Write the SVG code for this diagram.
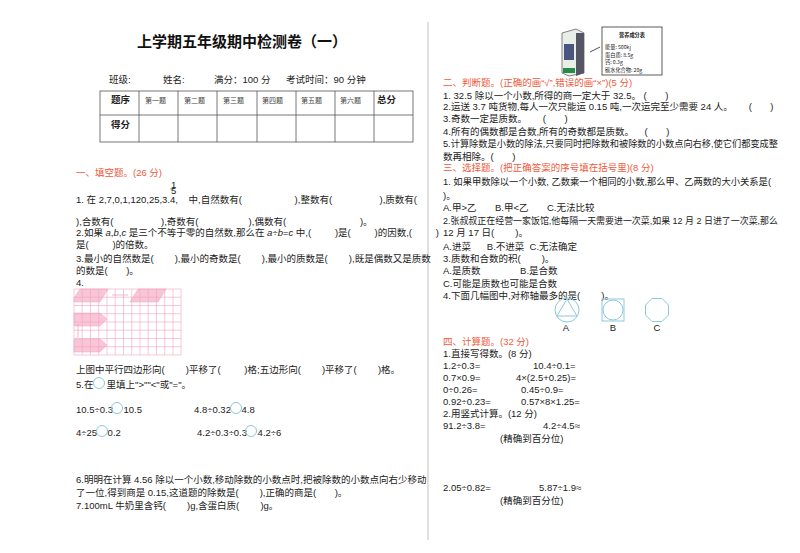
<svg xmlns="http://www.w3.org/2000/svg" width="800" height="553" viewBox="0 0 800 553">
<defs>
<style>
text{font-family:"Liberation Sans","Noto Sans CJK SC",sans-serif;font-size:9.5px;fill:#222;white-space:pre}
.t{font-size:15px;font-weight:bold;fill:#111}
.h{fill:#f05a3c}
.s{font-size:7px;fill:#444}
.b{font-weight:bold}
.n{font-size:5.2px;font-family:"Noto Sans CJK SC",serif}
.ln{stroke:#555;stroke-width:0.8;fill:none}
.c{fill:none;stroke:#8cc9dd;stroke-width:1}
.g{stroke:#f2a5bd;stroke-width:0.6;fill:none}
.p{fill:#f8c6d6;stroke:#f2a5bd;stroke-width:0.5}
</style>
</defs>
<rect width="800" height="553" fill="#fff"/>
<line x1="428" y1="22" x2="428" y2="540" stroke="#999" stroke-width="0.6"/>
<g id="title"><text x="242" y="47" class="t" text-anchor="middle">上学期五年级期中检测卷（一）</text></g>
<g id="info">
<text x="109" y="83" font-size="10.5">班级:</text>
<text x="163" y="83" font-size="10.5">姓名:</text>
<text x="214" y="83" font-size="10.5">满分：100 分</text>
<text x="286" y="83" font-size="10.5">考试时间：90 分钟</text>
</g>
<g id="table">
<rect x="100" y="91" width="313" height="51" class="ln"/>
<line x1="100" y1="115" x2="413" y2="115" class="ln"/>
<path d="M139 91V142M178 91V142M217 91V142M257 91V142M296 91V142M335 91V142M374 91V142" class="ln"/>
<text x="111" y="103" class="b" font-size="8">题序</text>
<text x="145" y="103" class="s">第一题</text>
<text x="184" y="103" class="s">第二题</text>
<text x="223" y="103" class="s">第三题</text>
<text x="262" y="103" class="s">第四题</text>
<text x="301" y="103" class="s">第五题</text>
<text x="340" y="103" class="s">第六题</text>
<text x="377" y="103" class="b" font-size="9">总分</text>
<text x="111" y="128" class="b" font-size="8">得分</text>
</g>
<g id="sec1">
<text x="76" y="176" class="h">一、填空题。(26 分)</text>
<text x="76" y="203">1. 在 2,7,0,1,120,25,3.4,    中,自然数有(                    ),整数有(                  ),质数有(</text>
<text x="171" y="188" font-size="4">1</text>
<line x1="170" y1="189" x2="174" y2="189" stroke="#222" stroke-width="0.4"/>
<text x="171" y="194" font-size="4">5</text>
<text x="76" y="225">),合数有(                  ),奇数有(                   ),偶数有(                            )。</text>
<text x="76" y="236">2.如果 <tspan font-style="italic">a</tspan>,<tspan font-style="italic">b</tspan>,<tspan font-style="italic">c</tspan> 是三个不等于零的自然数,那么在 <tspan font-style="italic">a</tspan>÷<tspan font-style="italic">b</tspan>=<tspan font-style="italic">c</tspan> 中,(         )是(         )的因数,(         )</text>
<text x="76" y="248">是(         )的倍数。</text>
<text x="76" y="262">3.最小的自然数是(        ),最小的奇数是(        ),最小的质数是(        ),既是偶数又是质数</text>
<text x="76" y="274">的数是(       )。</text>
<text x="76" y="286">4.</text>
</g>
<g id="grid">
<path class="p" d="M80 289H108L100 302H74V298Z"/>
<path class="p" d="M138 289H166L158 302H130Z"/>
<path class="p" d="M74 313H100L107 319L100 326H74Z"/>
<path class="p" d="M74 339H100L107 345L100 352H74Z"/>
<path class="g" d="M74 289V355M82.2 289V355M90.5 289V355M98.7 289V355M107 289V355M115.2 289V355M123.5 289V355M131.7 289V355M140 289V355M148.2 289V355M156.5 289V355M164.7 289V355M173 289V355M181 289V355"/>
<path class="g" d="M74 289H181M74 297.2H181M74 305.5H181M74 313.7H181M74 322H181M74 330.2H181M74 338.5H181M74 346.7H181M74 355H181"/>
<line x1="112" y1="295" x2="128" y2="295" stroke="#e98aa8" stroke-width="0.6"/>
<line x1="78" y1="324" x2="78" y2="338" stroke="#e98aa8" stroke-width="0.6"/>
</g>
<g id="sec1b">
<text x="76" y="373">上图中平行四边形向(        )平移了(         )格;五边形向(        )平移了(        )格。</text>
<text x="76" y="388">5.在     里填上"&gt;""&lt;"或"="。</text>
<circle cx="99" cy="383" r="5.5" class="c"/>
<text x="76" y="413">10.5÷0.3    10.5</text>
<circle cx="117" cy="408" r="5.5" class="c"/>
<text x="194" y="413">4.8÷0.32    4.8</text>
<circle cx="236" cy="408" r="5.5" class="c"/>
<text x="76" y="436">4÷25    0.2</text>
<circle cx="102" cy="431" r="5.5" class="c"/>
<text x="197" y="436">4.2÷0.3÷0.3    4.2÷6</text>
<circle cx="251" cy="431" r="5.5" class="c"/>
<text x="76" y="483">6.明明在计算 4.56 除以一个小数,移动除数的小数点时,把被除数的小数点向右少移动</text>
<text x="76" y="496">了一位,得到商是 0.15,这道题的除数是(        ),正确的商是(       )。</text>
<text x="76" y="509">7.100mL 牛奶里含钙(        )g,含蛋白质(        )g。</text>
</g>
<g id="milk">
<path d="M562 33L576 29L584 33V73L569 76L562 73Z" fill="#e8efe8" stroke="#333" stroke-width="0.6"/>
<path d="M576 33L584 33V73L576 76Z" fill="#556"/>
<rect x="564" y="44" width="10" height="16" fill="#4a5580"/>
<rect x="563" y="68" width="12" height="5" fill="#2a8a4a"/>
<line x1="590" y1="52" x2="600" y2="47" stroke="#222" stroke-width="0.8"/>
<rect x="602" y="27" width="60" height="48" fill="#fff" stroke="#333" stroke-width="0.8"/>
<text x="632" y="37" class="n b" text-anchor="middle">营养成分表</text>
<text x="605" y="49" class="n">能量: 500kj</text>
<text x="605" y="57" class="n">蛋白质: 8.5g</text>
<text x="605" y="64" class="n">钙: 0.3g</text>
<text x="605" y="72" class="n">碳水化合物: 20g</text>
</g>
<g id="sec2">
<text x="443" y="86" class="h">二、判断题。(正确的画“√”,错误的画“×”)(5 分)</text>
<text x="443" y="99">1. 32.5 除以一个小数,所得的商一定大于 32.5。 (       )</text>
<text x="443" y="110">2.运送 3.7 吨货物,每人一次只能运 0.15 吨,一次运完至少需要 24 人。      (       )</text>
<text x="443" y="122">3.奇数一定是质数。      (       )</text>
<text x="443" y="135">4.所有的偶数都是合数,所有的奇数都是质数。    (       )</text>
<text x="443" y="147" textLength="335" lengthAdjust="spacingAndGlyphs">5.计算除数是小数的除法,只要同时把除数和被除数的小数点向右移,使它们都变成整</text>
<text x="443" y="160">数再相除。(       )</text>
</g>
<g id="sec3">
<text x="443" y="171" class="h">三、选择题。(把正确答案的序号填在括号里)(8 分)</text>
<text x="443" y="185" textLength="328" lengthAdjust="spacingAndGlyphs">1. 如果甲数除以一个小数, 乙数乘一个相同的小数,那么甲、乙两数的大小关系是(</text>
<text x="443" y="199">)。</text>
<text x="443" y="211">A.甲&gt;乙       B.甲&lt;乙       C.无法比较</text>
<text x="443" y="224" textLength="335" lengthAdjust="spacingAndGlyphs">2.张叔叔正在经营一家饭馆,他每隔一天需要进一次菜,如果 12 月 2 日进了一次菜,那么</text>
<text x="443" y="236">12 月 17 日(        )。</text>
<text x="443" y="250">A.进菜      B.不进菜  C.无法确定</text>
<text x="443" y="262">3.质数和合数的积(        )。</text>
<text x="443" y="274">A.是质数               B.是合数</text>
<text x="443" y="287">C.可能是质数也可能是合数</text>
<text x="443" y="299">4.下面几幅图中,对称轴最多的是(        )。</text>
<circle cx="567" cy="310" r="12" class="c"/>
<path d="M567 299L557 316H577Z" class="c"/>
<rect x="602" y="299" width="22" height="22" class="c"/>
<circle cx="613" cy="310" r="10" class="c"/>
<path d="M652 298.5H662L668.5 305V315L662 321.5H652L645.5 315V305Z" class="c"/>
<text x="566" y="331" font-size="7" text-anchor="middle">A</text>
<text x="613" y="331" font-size="7" text-anchor="middle">B</text>
<text x="657" y="331" font-size="7" text-anchor="middle">C</text>
</g>
<g id="sec4">
<text x="443" y="345" class="h">四、计算题。(32 分)</text>
<text x="443" y="357">1.直接写得数。(8 分)</text>
<text x="443" y="369">1.2÷0.3=</text><text x="533" y="369">10.4÷0.1=</text>
<text x="443" y="381">0.7×0.9=</text><text x="516" y="381">4×(2.5+0.25)=</text>
<text x="443" y="393">0÷0.26=</text><text x="521" y="393">0.45÷0.9=</text>
<text x="443" y="405">0.92÷0.23=</text><text x="521" y="405">0.57×8×1.25=</text>
<text x="443" y="417">2.用竖式计算。(12 分)</text>
<text x="443" y="429">91.2÷3.8=</text><text x="543" y="429">4.2÷4.5≈</text>
<text x="500" y="442">(精确到百分位)</text>
<text x="443" y="491">2.05÷0.82=</text><text x="539" y="491">5.87÷1.9≈</text>
<text x="500" y="504">(精确到百分位)</text>
</g>
</svg>
